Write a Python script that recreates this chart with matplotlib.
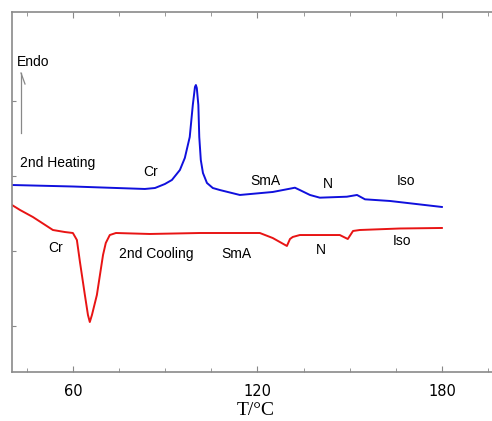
import numpy as np
from matplotlib import pyplot as plt

# 2nd heating (blue), temperature [C] and heat flow [a.u.]
heat_T = [40.2, 60, 83.4, 86.7, 89.9, 92.2, 94.8, 96.4, 98.0, 99.0, 99.7, 100.0, 100.3,
          100.8, 101.1, 101.6, 102.3, 103.6, 105.5, 107.8, 114.3, 125, 130.6, 132.2,
          133.8, 137.1, 140.3, 149.1, 152.4, 155, 163.1, 180]
heat_Q = [2.88, 2.86, 2.827, 2.84, 2.893, 2.947, 3.08, 3.24, 3.52, 3.947, 4.187, 4.213, 4.173,
          3.947, 3.52, 3.213, 3.04, 2.907, 2.84, 2.813, 2.747, 2.787, 2.831, 2.844,
          2.813, 2.747, 2.711, 2.724, 2.747, 2.689, 2.667, 2.587]

# 2nd cooling (red)
cool_T = [40.2, 42.8, 47.0, 50.5, 53.5, 57.4, 60, 61.3, 62.3, 63.9, 64.9, 65.5, 66.2, 67.8,
          68.8, 69.8, 70.7, 72.0, 74, 85, 101.3, 120.8, 125.0, 129.6, 130.6, 131.5, 133.8,
          146.8, 149.4, 151.1, 153.3, 166.3, 180]
cool_Q = [2.613, 2.547, 2.453, 2.36, 2.28, 2.253, 2.24, 2.147, 1.853, 1.413, 1.147, 1.053,
          1.147, 1.413, 1.68, 1.947, 2.107, 2.213, 2.24, 2.227, 2.24, 2.24, 2.173, 2.067,
          2.16, 2.187, 2.213, 2.213, 2.16, 2.267, 2.28, 2.3, 2.307]

heat_labels = [('2nd Heating', 20, 163), ('Cr', 143, 172), ('SmA', 250, 181),
               ('N', 323, 184), ('Iso', 397, 181)]
cool_labels = [('Cr', 48, 248), ('2nd Cooling', 119, 254), ('SmA', 221, 254),
               ('N', 316, 250), ('Iso', 393, 241)]

fig = plt.figure(figsize=(4.92, 4.21), dpi=100)
ax = fig.add_axes([12/492, 49/421, 488/492, 360/421])

ax.plot(heat_T, heat_Q, color='#1010dd', lw=1.4)
ax.plot(cool_T, cool_Q, color='#e81414', lw=1.4)

ax.set_xlim(40.2, 40.2 + 488/3.075)
ax.set_ylim(1 - 46/75, 1 + 314/75)
ax.set_xticks([60, 120, 180])
ax.set_xticks(np.arange(45, 196, 15), minor=True)
ax.set_yticks([1, 2, 3, 4])
ax.set_yticklabels([])
ax.tick_params(axis='both', which='both', direction='in', color='#888888',
               top=True, length=3, labelsize=10.5, pad=9)
ax.tick_params(axis='x', which='major', length=4)
for s in ['left', 'bottom', 'top']:
    ax.spines[s].set_color('#8a8a8a')
    ax.spines[s].set_linewidth(1.2)
ax.spines['right'].set_visible(False)

ax.set_xlabel('T/°C', family='Liberation Serif', fontsize=14, labelpad=2)

# annotations in pixel positions (from top-left)
def px(x, y):
    return (x / 492, 1 - y / 421)

for txt, x, y in heat_labels + cool_labels:
    fig.text(*px(x, y), txt, fontsize=10, family='Liberation Sans', va='center')

fig.text(*px(17, 62), 'Endo', fontsize=10, family='Liberation Sans', va='center')
fig.add_artist(plt.Line2D([21/492, 21/492], [1 - 133/421, 1 - 73/421], color='#888888', lw=0.9))
fig.add_artist(plt.Line2D([21/492, 25/492], [1 - 73/421, 1 - 84/421], color='#888888', lw=0.9))

plt.savefig('out.png', dpi=100)
